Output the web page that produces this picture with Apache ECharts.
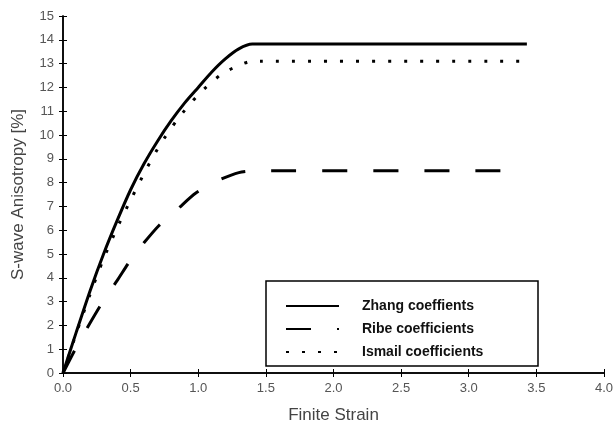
<!DOCTYPE html>
<html>
<head>
<meta charset="utf-8">
<script src="https://cdn.jsdelivr.net/npm/echarts@6/dist/echarts.min.js"></script>
<style>
  html, body { margin: 0; padding: 0; background: #fff; }
  #chart { width: 616px; height: 429px; }
</style>
</head>
<body>
<div id="chart"></div>
<script>
// Finite strain values (x) and anisotropy [%] (y)
const zhangStrain = [0, 0.1, 0.2, 0.3, 0.4, 0.5, 0.6, 0.7, 0.8, 0.9, 1.0, 1.1, 1.2, 1.3, 1.4, 3.43]
const zhangAniso = [0, 1.75, 3.45, 5.0, 6.4, 7.7, 8.8, 9.75, 10.6, 11.35, 12.0, 12.65, 13.2, 13.62, 13.82, 13.82]

const ribeStrain = [0, 0.1, 0.2, 0.3, 0.4, 0.5, 0.6, 0.71, 0.85, 0.98, 1.14, 1.3, 1.42, 3.4]
const ribeAniso = [0, 1.1, 2.1, 3.05, 3.88, 4.75, 5.48, 6.2, 6.9, 7.55, 8.07, 8.42, 8.5, 8.5]

const ismailStrain = [0, 0.1, 0.2, 0.3, 0.41, 0.51, 0.61, 0.72, 0.85, 1.0, 1.17, 1.27, 1.37, 1.45, 3.4]
const ismailAniso = [0, 1.7, 3.3, 4.8, 6.22, 7.38, 8.5, 9.61, 10.68, 11.69, 12.55, 12.85, 13.07, 13.1, 13.1]

const seriesNames = ['Zhang coeffients', 'Ribe coefficients', 'Ismail coefficients']

const pairs = (xs, ys) => xs.map((x, i) => [x, ys[i]])

const chart = echarts.init(document.getElementById('chart'))

const axisLine = { show: true, lineStyle: { color: '#000', width: 1.5 } }
const axisTick = { show: true, length: 4, lineStyle: { color: '#000', width: 1 } }
const labelStyle = { color: '#555', fontSize: 13, fontFamily: 'Liberation Sans, Arial, sans-serif' }

const lineSeries = (name, data, type) => ({
    name,
    type: 'line',
    data,
    smooth: 0.25,
    symbol: 'none',
    lineStyle: { color: '#000', width: 3, type },
    itemStyle: { color: '#000' },
    z: 3
})

const option = {
    animation: false,
    backgroundColor: '#fff',
    grid: { left: 63, right: 10, top: 16, bottom: 52 },
    graphic: [{
        type: 'rect',
        shape: { x: 266, y: 281, width: 272, height: 85 },
        style: { fill: '#fff', stroke: '#000', lineWidth: 1.5 },
        z: 5
    }],
    legend: {
        data: seriesNames,
        orient: 'vertical',
        left: 280,
        top: 294,
        itemWidth: 53,
        itemHeight: 14,
        itemGap: 9,
        z: 10,
        itemStyle: { opacity: 0 },
        textStyle: {
            color: '#111',
            fontSize: 14,
            fontWeight: 'bold',
            fontFamily: 'Liberation Sans, Arial, sans-serif',
            padding: [0, 0, 0, 18]
        }
    },
    xAxis: [{
        type: 'value',
        min: 0, max: 4, interval: 0.5,
        name: 'Finite Strain',
        nameLocation: 'middle',
        nameGap: 34,
        nameTextStyle: { color: '#444', fontSize: 17, fontFamily: 'Liberation Sans, Arial, sans-serif' },
        axisLine, axisTick,
        axisLabel: Object.assign({ margin: 9, formatter: v => v.toFixed(1) }, labelStyle),
        splitLine: { show: false }
    }, {
        type: 'value',
        position: 'top',
        min: 0, max: 4, interval: 0.5,
        axisLine, axisTick,
        axisLabel: { show: false },
        splitLine: { show: false }
    }],
    yAxis: [{
        type: 'value',
        min: 0, max: 15, interval: 1,
        name: 'S-wave Anisotropy [%]',
        nameLocation: 'middle',
        nameGap: 36,
        nameTextStyle: { color: '#444', fontSize: 17, fontFamily: 'Liberation Sans, Arial, sans-serif' },
        axisLine, axisTick,
        axisLabel: Object.assign({ margin: 9 }, labelStyle),
        splitLine: { show: false }
    }, {
        type: 'value',
        position: 'right',
        min: 0, max: 15, interval: 1,
        axisLine, axisTick,
        axisLabel: { show: false },
        splitLine: { show: false }
    }],
    series: [
        lineSeries(seriesNames[0], pairs(zhangStrain, zhangAniso), 'solid'),
        lineSeries(seriesNames[1], pairs(ribeStrain, ribeAniso), [25, 26]),
        lineSeries(seriesNames[2], pairs(ismailStrain, ismailAniso), [3, 13])
    ]
}

chart.setOption(option)
</script>
</body>
</html>
